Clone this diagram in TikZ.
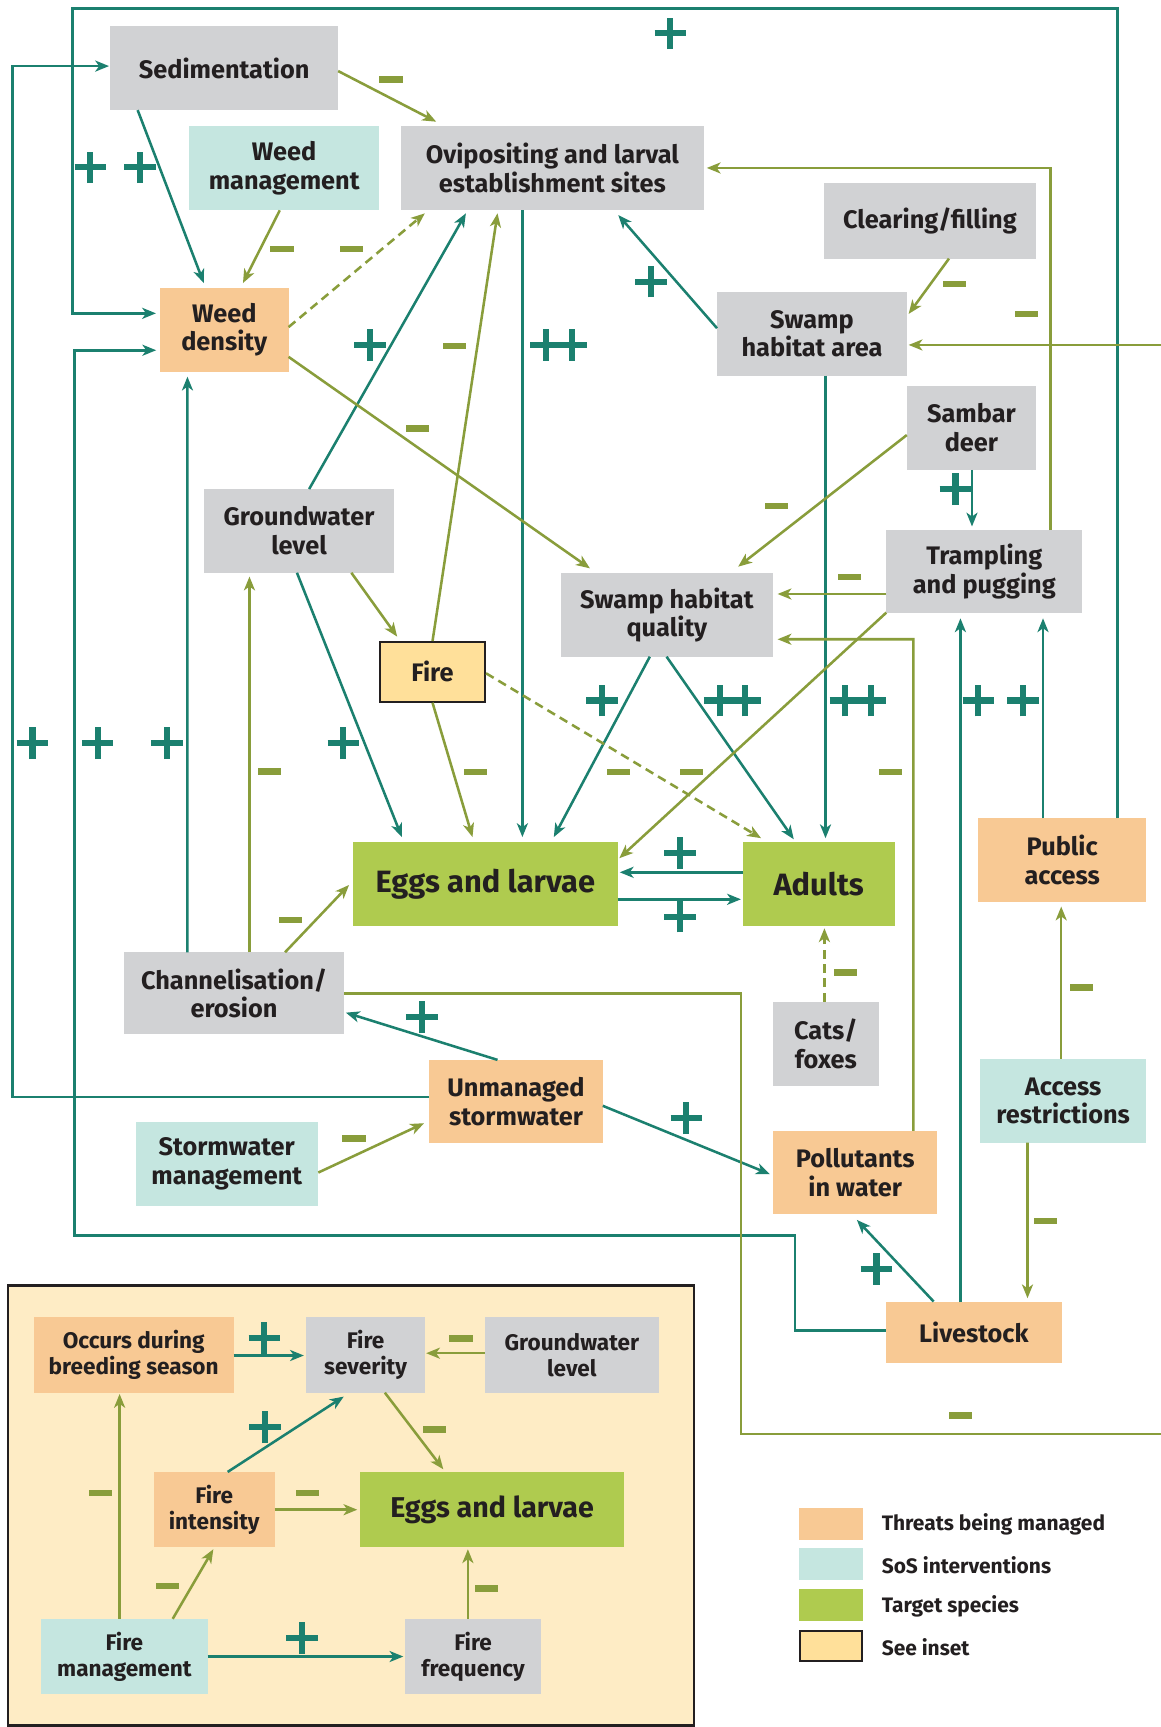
\documentclass[tikz,border=0pt]{standalone}
\usepackage{fontspec}
\setmainfont{Fira Sans}
\usetikzlibrary{arrows.meta,calc,shapes.misc}
\definecolor{tl}{RGB}{27,128,111}
\definecolor{ol}{RGB}{137,157,59}
\definecolor{gbx}{RGB}{209,210,212}
\definecolor{tbx}{RGB}{197,230,224}
\definecolor{obx}{RGB}{248,201,148}
\definecolor{grn}{RGB}{175,203,79}
\definecolor{yel}{RGB}{255,224,154}
\definecolor{crm}{RGB}{254,236,197}
\definecolor{ink}{RGB}{35,31,32}
\tikzset{
  box/.style={rectangle, inner sep=0pt, outer sep=0pt, align=center, text=ink,
    font=\bfseries\fontsize{23}{26}\selectfont},
  gb/.style={box, fill=gbx},
  tb/.style={box, fill=tbx},
  ob/.style={box, fill=obx},
  gr/.style={box, fill=grn, font=\bfseries\fontsize{28}{30}\selectfont},
  yb/.style={box, fill=yel, draw=ink, line width=2pt},
  ibox/.style={font=\bfseries\fontsize{20.5}{23.5}\selectfont},
  tline/.style={draw=tl, line width=2.3pt},
  oline/.style={draw=ol, line width=2.3pt},
  arr/.style={-{Stealth[length=12.5pt,width=10pt,inset=3.5pt]}},
  dsh/.style={dash pattern=on 8pt off 5pt},
  plus/.style={cross out, draw=tl, line width=5.5pt, minimum size=14.8pt, inner sep=0pt, rotate=45},
  minus/.style={rectangle, fill=ol, minimum width=21pt, minimum height=6pt, inner sep=0pt},
  legtext/.style={anchor=west, text=ink, inner sep=0pt, font=\bfseries\fontsize{19}{20}\selectfont},
}
\begin{document}
\begin{tikzpicture}[x=1pt,y=-1pt]
\useasboundingbox[fill=white] (0,0) rectangle (1054,1568);

% inset frame
\node[draw=ink, line width=2.2pt, fill=crm, inner sep=0pt, minimum width=622.5pt, minimum height=399.5pt] (inset) at (318.75,1367) {};

% main nodes
\node[gb, minimum width=207pt, minimum height=76pt] (sed) at (203.5,62) {Sedimentation};
\node[tb, minimum width=172pt, minimum height=77pt] (wmg) at (258,152.5) {Weed\\management};
\node[gb, minimum width=275pt, minimum height=77pt] (ovi) at (501.5,152.5) {Ovipositing and larval\\establishment sites};
\node[gb, minimum width=192.6pt, minimum height=68.8pt] (clr) at (844.3,200.4) {Clearing/filling};
\node[ob, minimum width=116.8pt, minimum height=76pt] (wden) at (203.6,299.5) {Weed\\density};
\node[gb, minimum width=172.3pt, minimum height=76pt] (sha) at (737.2,303) {Swamp\\habitat area};
\node[gb, minimum width=117.3pt, minimum height=76.3pt] (sam) at (882,388.5) {Sambar\\deer};
\node[gb, minimum width=172.7pt, minimum height=76pt] (gwl) at (271.5,482) {Groundwater\\level};
\node[gb, minimum width=178.1pt, minimum height=75.6pt] (trp) at (893.7,519) {Trampling\\and pugging};
\node[gb, minimum width=192pt, minimum height=75.7pt] (shq) at (605.5,558.3) {Swamp habitat\\quality};
\node[yb, minimum width=95.5pt, minimum height=54pt] (fire) at (392.7,610) {Fire};
\node[gr, minimum width=240pt, minimum height=75.7pt] (egg) at (440.7,802.5) {Eggs and larvae};
\node[gr, minimum width=137.8pt, minimum height=75.7pt] (adu) at (743.3,802.5) {Adults};
\node[ob, minimum width=152.8pt, minimum height=75.6pt] (pub) at (964.4,780.8) {Public\\access};
\node[gb, minimum width=199.1pt, minimum height=74.4pt] (chn) at (212.5,901.8) {Channelisation/\\erosion};
\node[gb, minimum width=95.7pt, minimum height=76.3pt] (cat) at (749.8,947.5) {Cats/\\foxes};
\node[ob, minimum width=157.5pt, minimum height=75.7pt] (ums) at (468.5,1000.2) {Unmanaged\\stormwater};
\node[tb, minimum width=151.1pt, minimum height=76pt] (acc) at (965.3,999.4) {Access\\restrictions};
\node[tb, minimum width=165pt, minimum height=75.7pt] (swm) at (205.9,1056.8) {Stormwater\\management};
\node[ob, minimum width=149.2pt, minimum height=75.6pt] (pol) at (776.5,1064.6) {Pollutants\\in water};
\node[ob, minimum width=159.5pt, minimum height=54.8pt] (liv) at (884.2,1209.7) {Livestock};

% free ends at the right edge
\coordinate (edgeA) at (1054,313.2);
\coordinate (edgeB) at (1054,1301.9);

% ---- teal connectors
\draw[tline,arr] ($(pub)+(50.3,-37.8)$) -- (1014.7,7.6) -- (66,7.6) -- (66,284.5) -- ($(wden)+(-62,-15)$);
\draw[tline,arr] ($(sed)+(-78.5,38)$) -- ($(wden)+(-18.6,-42.5)$);
\draw[tline,arr] ($(gwl)+(9.2,-38)$) -- ($(ovi)+(-78.5,41.2)$);
\draw[tline,arr] ($(ovi)+(-27.2,38.5)$) -- ($(egg)+(33.6,-42.5)$);
\draw[tline,arr] ($(sha)+(-86.2,-5)$) -- ($(ovi)+(59.8,42.7)$);
\draw[tline,arr] ($(sha)+(12.3,38)$) -- ($(adu)+(6.2,-41.5)$);
\draw[tline,arr] ($(sam)+(0.5,38.2)$) -- ($(trp)+(-11.2,-41)$);
\draw[tline,arr] ($(shq)+(-15.5,37.9)$) -- ($(egg)+(62.1,-42.5)$);
\draw[tline,arr] ($(shq)+(-0.3,37.9)$) -- ($(adu)+(-22.6,-40.5)$);
\draw[tline,arr] ($(gwl)+(-1.9,38)$) -- ($(egg)+(-75.9,-42.5)$);
\draw[tline,arr] ($(adu)+(-68.9,-10.5)$) -- ($(egg)+(122,-10.5)$);
\draw[tline,arr] ($(egg)+(120,14)$) -- ($(adu)+(-70.6,14)$);
\draw[tline,arr] ($(chn)+(-42.3,-37.2)$) -- ($(wden)+(-33.4,42.5)$);
\draw[tline,arr] ($(ums)+(-16.8,-37.9)$) -- ($(chn)+(101.5,17.6)$);
\draw[tline,arr] ($(ums)+(-78.8,-4)$) -- (11.5,996.2) -- (11.5,60) -- ($(sed)+(-104.5,-2)$);
\draw[tline,arr] ($(ums)+(78.8,3.8)$) -- ($(pol)+(-77.5,1.4)$);
\draw[tline,arr] ($(liv)+(-36.5,-28)$) -- ($(pol)+(1.5,43)$);
\draw[tline,arr] ($(liv)+(-12.2,-27.4)$) -- ($(trp)+(-21.7,42.4)$);
\draw[tline,arr] ($(pub)+(-17.4,-37.8)$) -- ($(trp)+(53.3,42.4)$);
\draw[tline,arr] ($(liv)+(-79.8,-1.7)$) -- (722,1208) -- (722,1121.8) -- (67.7,1121.8) -- (67.7,318) -- ($(wden)+(-61.8,18.5)$);

% ---- olive connectors
\draw[oline,arr] ($(wmg)+(-4,38.5)$) -- ($(wden)+(17,-42.5)$);
\draw[oline,arr] ($(sed)+(103.5,2.5)$) -- ($(ovi)+(-105.5,-42)$);
\draw[oline,arr,dsh] ($(wden)+(58.4,-2.5)$) -- ($(ovi)+(-115.8,41.2)$);
\draw[oline,arr] ($(fire)+(0,-28)$) -- ($(ovi)+(-49.8,41.2)$);
\draw[oline,arr] ($(wden)+(58.4,24.5)$) -- ($(shq)+(-69.9,-42.3)$);
\draw[oline,arr] ($(clr)+(17.3,34.4)$) -- ($(sha)+(87.8,-18)$);
\draw[oline,arr] (edgeA) -- ($(sha)+(87.8,10.2)$);
\draw[oline,arr] ($(trp)+(60.1,-37.8)$) -- (953.8,152.5) -- ($(ovi)+(140.2,0)$);
\draw[oline,arr] ($(sam)+(-58.7,6.5)$) -- ($(shq)+(64.7,-43.8)$);
\draw[oline,arr] ($(trp)+(-89,20.3)$) -- ($(shq)+(100.5,-19)$);
\draw[oline,arr] ($(pol)+(52.8,-37.8)$) -- (829.3,580.4) -- ($(shq)+(100.5,22.1)$);
\draw[oline,arr] ($(trp)+(-89,37.2)$) -- ($(egg)+(121.6,-23.3)$);
\draw[oline,arr,dsh] ($(fire)+(48.6,1.3)$) -- ($(adu)+(-52.3,-41.5)$);
\draw[oline,arr] ($(gwl)+(47.5,38)$) -- ($(fire)+(-32.1,-32)$);
\draw[oline,arr] ($(fire)+(0,28)$) -- ($(egg)+(-11.7,-42.5)$);
\draw[oline,arr] ($(chn)+(14,-37.2)$) -- ($(gwl)+(-45,41.5)$);
\draw[oline,arr] ($(chn)+(46.3,-37.2)$) -- ($(egg)+(-123.8,1)$);
\draw[oline] ($(chn)+(99.6,0)$) -- (672.6,901.8) -- (672.6,1301.9) -- (edgeB);
\draw[oline,arr] ($(swm)+(83.1,7.8)$) -- ($(ums)+(-83.5,19.6)$);
\draw[oline,arr,dsh] ($(cat)+(-1.3,-38.2)$) -- ($(adu)+(5.2,40.3)$);
\draw[oline,arr] ($(acc)+(-1.8,-38)$) -- ($(pub)+(-0.9,42.3)$);
\draw[oline,arr] ($(acc)+(-32.4,38)$) -- ($(liv)+(48.7,-31)$);

% ---- signs (main)
\node[plus] (p1) at (608.6,30.3) {};
\node[plus] (p2) at (82,152) {};
\node[plus] (p3) at (127,152) {};
\node[plus] (p4) at (336,313) {};
\node[plus] (p5a) at (496,313) {};
\node[plus] (p5b) at (519,313) {};
\node[plus] (p6) at (591.2,255.7) {};
\node[plus] (p7) at (867.5,444.2) {};
\node[plus] (p8) at (546.7,636) {};
\node[plus] (p9a) at (653.5,636) {};
\node[plus] (p9b) at (676.5,636) {};
\node[plus] (p10a) at (767.5,636) {};
\node[plus] (p10b) at (790.5,636) {};
\node[plus] (p11) at (888.3,636) {};
\node[plus] (p12) at (928.7,636) {};
\node[plus] (p13) at (29.5,674.8) {};
\node[plus] (p14) at (88.6,674.8) {};
\node[plus] (p15) at (151.8,674.8) {};
\node[plus] (p16) at (311.7,674.8) {};
\node[plus] (p17) at (617.4,774.7) {};
\node[plus] (p18) at (617.4,832.2) {};
\node[plus] (p19) at (382.9,923.6) {};
\node[plus] (p20) at (623.2,1015.3) {};
\node[plus] (p21) at (795.8,1152.3) {};

\node[minus] (m1) at (355,72) {};
\node[minus] (m2) at (256,226) {};
\node[minus] (m3) at (319,226) {};
\node[minus] (m4) at (413,314) {};
\node[minus] (m5) at (379,389) {};
\node[minus] (m6) at (866.8,257.8) {};
\node[minus] (m7) at (932,285) {};
\node[minus] (m8) at (705,459.4) {};
\node[minus] (m9) at (771,524) {};
\node[minus] (m10) at (561.3,701) {};
\node[minus] (m11) at (627.8,701) {};
\node[minus] (m12) at (808.4,701) {};
\node[minus] (m13) at (244.6,700.3) {};
\node[minus] (m14) at (431.9,701) {};
\node[minus] (m15) at (264,835.2) {};
\node[minus] (m16) at (767.6,882.7) {};
\node[minus] (m17) at (981.7,896.3) {};
\node[minus] (m18) at (321.4,1033.7) {};
\node[minus] (m19) at (949.6,1108.5) {};
\node[minus] (m20) at (871.8,1284.9) {};

% ---- inset nodes
\node[ob, ibox, minimum width=181.2pt, minimum height=68.8pt] (occ) at (121.4,1230) {Occurs during\\breeding season};
\node[gb, ibox, minimum width=108.6pt, minimum height=68.8pt] (fsev) at (331.9,1230) {Fire\\severity};
\node[gb, ibox, minimum width=158pt, minimum height=68.8pt] (igw) at (519.2,1230) {Groundwater\\level};
\node[ob, ibox, minimum width=109.5pt, minimum height=68.6pt] (fint) at (194.5,1370.7) {Fire\\intensity};
\node[gr, minimum width=240.3pt, minimum height=68.6pt, font=\bfseries\fontsize{26}{28}\selectfont] (iegg) at (446.8,1370.7) {Eggs and larvae};
\node[tb, ibox, minimum width=151.2pt, minimum height=68.4pt] (fmg) at (112.9,1504) {Fire\\management};
\node[gb, ibox, minimum width=124pt, minimum height=68.4pt] (ffr) at (429.6,1504) {Fire\\frequency};

\draw[tline,arr] ($(occ)+(90.6,0.7)$) -- ($(fsev)+(-56,0.7)$);
\draw[oline,arr] ($(igw)+(-79,-1.4)$) -- ($(fsev)+(55,-1.4)$);
\draw[tline,arr] ($(fint)+(12.2,-34.3)$) -- ($(fsev)+(-19.8,38)$);
\draw[oline,arr] ($(fsev)+(17.5,34.4)$) -- ($(iegg)+(-44.3,-36.7)$);
\draw[oline,arr] ($(fint)+(54.75,0)$) -- ($(iegg)+(-122.4,0)$);
\draw[oline,arr] ($(fmg)+(-4.3,-34.2)$) -- ($(occ)+(-12.8,35.6)$);
\draw[oline,arr] ($(fmg)+(43.9,-34.2)$) -- ($(fint)+(-0.8,35.9)$);
\draw[tline,arr] ($(fmg)+(75.6,0)$) -- ($(ffr)+(-63.4,0)$);
\draw[oline,arr] ($(ffr)+(-4.8,-34.2)$) -- ($(iegg)+(-22,35.9)$);

\node[plus] (ip1) at (240,1215) {};
\node[plus] (ip2) at (240.7,1295.8) {};
\node[plus] (ip3) at (274.4,1487.4) {};
\node[minus] (im1) at (418.6,1215) {};
\node[minus] (im2) at (394.4,1297.6) {};
\node[minus] (im3) at (279.2,1355.7) {};
\node[minus] (im4) at (91.2,1355.7) {};
\node[minus] (im5) at (152,1439.9) {};
\node[minus] (im6) at (441.8,1442) {};

% ---- legend
\node[rectangle, fill=obx, minimum width=58pt, minimum height=28.8pt, inner sep=0pt] (lg1) at (754.5,1383.4) {};
\node[rectangle, fill=tbx, minimum width=58pt, minimum height=28.8pt, inner sep=0pt] (lg2) at (754.5,1419.7) {};
\node[rectangle, fill=grn, minimum width=58pt, minimum height=28.8pt, inner sep=0pt] (lg3) at (754.5,1457) {};
\node[rectangle, fill=yel, draw=ink, line width=2pt, minimum width=56pt, minimum height=27pt, inner sep=0pt] (lg4) at (754.5,1494.2) {};
\node[legtext] (lt1) at (800.4,1384.4) {Threats being managed};
\node[legtext] (lt2) at (800.4,1420.7) {SoS interventions};
\node[legtext] (lt3) at (800.4,1458) {Target species};
\node[legtext] (lt4) at (800.4,1495.2) {See inset};
\end{tikzpicture}
\end{document}
